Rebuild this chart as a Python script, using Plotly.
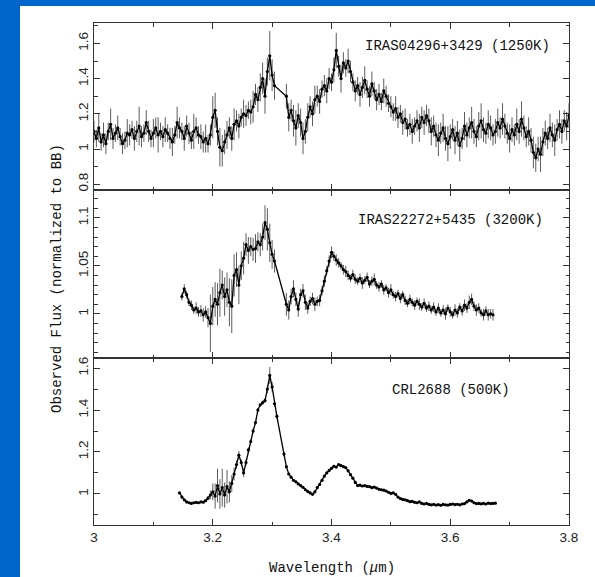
import numpy as np
import plotly.graph_objects as go
from plotly.subplots import make_subplots

# ---------------- data ----------------
# wavelength sampling of each spectrum (start, step in micron)
IRAS04296_START, IRAS04296_STEP = 3.000, 0.004
IRAS22272_START, IRAS22272_STEP = 3.148, 0.004
CRL2688_START, CRL2688_STEP = 3.144, 0.004

# IRAS04296+3429 (1250K): flux normalised to black body
iras04296_flux = [
    1.10, 1.06, 1.12, 1.04, 1.08, 1.03, 1.10, 1.14, 1.06, 1.09,
    1.12, 1.07, 1.03, 1.05, 1.09, 1.08, 1.11, 1.06, 1.10, 1.13,
    1.07, 1.09, 1.15, 1.10, 1.06, 1.09, 1.12, 1.08, 1.10, 1.07,
    1.11, 1.09, 1.06, 1.04, 1.08, 1.15, 1.12, 1.10, 1.06, 1.13,
    1.09, 1.05, 1.10, 1.12, 1.08, 1.07, 1.04, 1.06, 1.03, 1.08,
    1.18, 1.22, 1.10, 1.01, 0.99, 1.04, 1.08, 1.12, 1.06, 1.14,
    1.16, 1.13, 1.18, 1.20, 1.19, 1.22, 1.21, 1.24, 1.31, 1.28,
    1.35, 1.40, 1.30, 1.44, 1.53, 1.42, 1.36, None, None, None,
    None, 1.30, 1.18, 1.22, 1.16, 1.12, 1.19, 1.15, 1.06, 1.10,
    1.18, 1.24, 1.20, 1.28, 1.30, 1.27, 1.34, 1.36, 1.33, 1.40,
    1.38, 1.45, 1.56, 1.47, 1.40, 1.49, 1.46, 1.50, 1.44, 1.38,
    1.33, 1.36, 1.31, 1.35, 1.39, 1.34, 1.30, 1.37, 1.33, 1.28,
    1.31, 1.27, 1.33, 1.30, 1.26, 1.24, 1.21, 1.23, 1.18, 1.20,
    1.15, 1.17, 1.12, 1.14, 1.10, 1.13, 1.16, 1.12, 1.18, 1.15,
    1.19, 1.16, 1.10, 1.13, 1.08, 1.05, 1.09, 1.12, 1.06, 1.03,
    1.07, 1.11, 1.05, 1.09, 1.02, 1.06, 1.13, 1.08, 1.12, 1.15,
    1.10, 1.07, 1.13, 1.16, 1.11, 1.09, 1.14, 1.12, 1.08, 1.10,
    1.15, 1.12, 1.17, 1.13, 1.09, 1.06, 1.11, 1.08, 1.14, 1.10,
    1.17, 1.12, 1.07, 1.10, 1.05, 0.98, 0.95, 1.00, 0.97, 1.04,
    1.09, 1.06, 1.12, 1.08, 1.05, 1.11, 1.14, 1.10, 1.16, 1.13,
    1.19,
]
iras04296_err = [
    0.06, 0.05, 0.08, 0.05, 0.07, 0.06, 0.05, 0.09, 0.06, 0.05,
    0.07, 0.05, 0.06, 0.05, 0.08, 0.06, 0.05, 0.07, 0.06, 0.11,
    0.06, 0.05, 0.07, 0.06, 0.05, 0.08, 0.06, 0.10, 0.05, 0.06,
    0.07, 0.05, 0.06, 0.08, 0.05, 0.09, 0.06, 0.05, 0.07, 0.06,
    0.06, 0.05, 0.10, 0.06, 0.05, 0.07, 0.06, 0.08, 0.05, 0.06,
    0.12, 0.10, 0.08, 0.11, 0.09, 0.07, 0.08, 0.06, 0.07, 0.09,
    0.06, 0.07, 0.05, 0.08, 0.06, 0.05, 0.07, 0.09, 0.06, 0.07,
    0.08, 0.09, 0.10, 0.08, 0.14, 0.09, 0.08, 0.00, 0.00, 0.00,
    0.00, 0.07, 0.08, 0.06, 0.09, 0.10, 0.07, 0.08, 0.09, 0.07,
    0.08, 0.06, 0.07, 0.08, 0.06, 0.07, 0.05, 0.06, 0.07, 0.06,
    0.05, 0.07, 0.10, 0.06, 0.08, 0.06, 0.05, 0.07, 0.06, 0.05,
    0.06, 0.05, 0.07, 0.06, 0.08, 0.05, 0.06, 0.07, 0.05, 0.06,
    0.06, 0.05, 0.07, 0.06, 0.05, 0.06, 0.05, 0.07, 0.06, 0.05,
    0.07, 0.06, 0.05, 0.06, 0.07, 0.05, 0.06, 0.08, 0.06, 0.07,
    0.06, 0.07, 0.08, 0.06, 0.07, 0.09, 0.06, 0.08, 0.07, 0.10,
    0.07, 0.06, 0.08, 0.07, 0.09, 0.06, 0.08, 0.07, 0.06, 0.09,
    0.07, 0.06, 0.08, 0.10, 0.07, 0.06, 0.08, 0.07, 0.06, 0.07,
    0.08, 0.06, 0.09, 0.07, 0.06, 0.08, 0.07, 0.06, 0.09, 0.07,
    0.10, 0.07, 0.06, 0.08, 0.07, 0.09, 0.08, 0.07, 0.10, 0.08,
    0.07, 0.06, 0.08, 0.07, 0.09, 0.06, 0.08, 0.07, 0.06, 0.08,
    0.07,
]

# IRAS22272+5435 (3200K)
iras22272_flux = [
    1.018, 1.026, 1.020, 1.012, 1.009, 1.004, 1.006, 1.002, 1.003, 0.999,
    1.002, 0.996,
    0.990, 1.008, 1.015, 1.010, 1.022, 1.030, 1.018, 1.025, 1.012, 1.008,
    1.040,
    1.046, 1.030, 1.050, 1.058, 1.072, 1.066, 1.070, 1.067, 1.068, 1.075,
    1.072, 1.080, 1.095, 1.088, 1.074, 1.062, 1.055,
    None, None, None, None,
    1.010, 1.004, 1.018, 1.026, 1.015, 1.005, 1.020, 1.024, 1.012, 1.006,
    1.013, 1.016, 1.010, 1.013, 1.014, 1.024, 1.034, 1.045, 1.055,
    1.064, 1.060, 1.056, 1.053, 1.050, 1.046, 1.044, 1.040, 1.037, 1.041,
    1.036, 1.034, 1.037, 1.032, 1.035, 1.038, 1.031, 1.034, 1.036, 1.030,
    1.028, 1.031, 1.025, 1.027, 1.022, 1.025, 1.020, 1.018, 1.021, 1.016,
    1.020, 1.014, 1.011, 1.015, 1.012, 1.009, 1.013, 1.010, 1.007, 1.011,
    1.006, 1.008, 1.004, 1.007, 1.002, 1.006, 1.001, 1.004, 1.000, 1.006,
    1.002, 0.999, 1.004, 1.001, 1.007, 1.003, 1.009, 1.006, 1.012, 1.015,
    1.008, 1.004, 1.006, 1.001, 0.999, 1.003, 0.999, 1.000, 0.999,
]
iras22272_err = [
    0.004, 0.005, 0.004, 0.004, 0.005, 0.004, 0.006, 0.005, 0.006, 0.007,
    0.006, 0.010,
    0.030, 0.020, 0.018, 0.022, 0.025, 0.015, 0.020, 0.018, 0.025, 0.028,
    0.022,
    0.018, 0.020, 0.015, 0.017, 0.012, 0.014, 0.010, 0.012, 0.015, 0.010,
    0.012, 0.014, 0.018, 0.022, 0.020, 0.015, 0.012,
    0.0, 0.0, 0.0, 0.0,
    0.012, 0.010, 0.008, 0.009, 0.007, 0.008, 0.006, 0.007, 0.008, 0.006,
    0.005, 0.006, 0.007, 0.005, 0.006, 0.005, 0.006, 0.005, 0.006,
    0.006, 0.005, 0.006, 0.005, 0.004, 0.005, 0.006, 0.005, 0.004, 0.005,
    0.005, 0.004, 0.005, 0.006, 0.004, 0.005, 0.004, 0.005, 0.006, 0.004,
    0.005, 0.004, 0.005, 0.004, 0.005, 0.006, 0.004, 0.005, 0.004, 0.005,
    0.004, 0.005, 0.004, 0.005, 0.004, 0.005, 0.004, 0.006, 0.004, 0.005,
    0.004, 0.005, 0.004, 0.005, 0.004, 0.005, 0.004, 0.005, 0.006, 0.004,
    0.005, 0.004, 0.006, 0.005, 0.004, 0.005, 0.006, 0.005, 0.007, 0.006,
    0.005, 0.006, 0.005, 0.004, 0.006, 0.005, 0.006, 0.005, 0.006,
]

# CRL2688 (500K)
crl2688_flux = [
    1.005, 0.985, 0.972, 0.962, 0.958, 0.955, 0.958, 0.960, 0.958, 0.962,
    0.961, 0.968, 0.980,
    0.995, 1.010, 0.990, 1.040, 1.000, 1.030, 0.995, 1.035, 1.010, 1.050,
    1.095,
    1.140, 1.185, 1.150, 1.100, 1.150, 1.210, 1.250, 1.300, 1.340, 1.400,
    1.425, 1.435, 1.445,
    1.500, 1.565, 1.510, 1.430, 1.370,
    None, None,
    1.190, 1.130, 1.095, 1.080, 1.065, 1.058, 1.048, 1.040, 1.032, 1.020,
    1.012, 1.005, 0.998, 1.010, 1.030, 1.045, 1.065, 1.085, 1.100, 1.112,
    1.122, 1.132, 1.128, 1.140, 1.135, 1.130, 1.125, 1.110, 1.092, 1.075,
    1.055, 1.040, 1.042, 1.038, 1.040, 1.036, 1.035, 1.030, 1.033, 1.028,
    1.022, 1.020, 1.018, 1.014, 1.008, 1.003, 1.005, 0.998, 0.985, 0.978,
    0.974, 0.972, 0.968, 0.963, 0.965, 0.960, 0.958, 0.962, 0.955, 0.952,
    0.955, 0.950, 0.948, 0.950, 0.947, 0.949, 0.946, 0.950, 0.948, 0.947,
    0.950, 0.952, 0.949, 0.951, 0.948, 0.952, 0.954, 0.962, 0.970, 0.966,
    0.958, 0.954, 0.955, 0.953, 0.955, 0.952, 0.956, 0.954, 0.955, 0.956,
]
crl2688_err = [
    0.004, 0.004, 0.003, 0.004, 0.003, 0.004, 0.003, 0.004, 0.003, 0.004,
    0.004, 0.005, 0.010,
    0.020, 0.040, 0.060, 0.080, 0.070, 0.090, 0.060, 0.080, 0.050, 0.040,
    0.030,
    0.020, 0.020, 0.015, 0.020, 0.015, 0.012, 0.010, 0.012, 0.010, 0.010,
    0.008, 0.010, 0.012,
    0.020, 0.040, 0.025, 0.015, 0.010,
    0.0, 0.0,
    0.010, 0.008, 0.007, 0.006, 0.005, 0.006, 0.005, 0.006, 0.005, 0.006,
    0.005, 0.006, 0.005, 0.006, 0.005, 0.006, 0.005, 0.006, 0.005, 0.006,
    0.006, 0.007, 0.006, 0.007, 0.006, 0.006, 0.005, 0.006, 0.005, 0.006,
    0.005, 0.004, 0.005, 0.004, 0.005, 0.004, 0.005, 0.004, 0.005, 0.004,
    0.004, 0.005, 0.004, 0.005, 0.004, 0.005, 0.004, 0.005, 0.004, 0.005,
    0.005, 0.004, 0.005, 0.004, 0.005, 0.004, 0.005, 0.004, 0.005, 0.004,
    0.004, 0.005, 0.004, 0.005, 0.004, 0.005, 0.004, 0.005, 0.004, 0.005,
    0.005, 0.004, 0.005, 0.004, 0.005, 0.004, 0.005, 0.004, 0.005, 0.004,
    0.004, 0.005, 0.004, 0.005, 0.004, 0.005, 0.004, 0.005, 0.004, 0.005,
]

panel_labels = ["IRAS04296+3429 (1250K)", "IRAS22272+5435 (3200K)", "CRL2688 (500K)"]
label_pos = [(3.612, 1.586), (3.600, 1.098), (3.602, 1.495)]
y_ranges = [(0.767, 1.716), (0.954, 1.129), (0.852, 1.648)]
y_tickvals = [[0.8, 1.0, 1.2, 1.4, 1.6], [1.0, 1.05, 1.1], [1.0, 1.2, 1.4, 1.6]]
y_ticktext = [["0.8", "1", "1.2", "1.4", "1.6"], ["1", "1.05", "1.1"], ["1", "1.2", "1.4", "1.6"]]
y_minor = [0.1, 0.01, 0.1]
x_tickvals = [3.0, 3.2, 3.4, 3.6, 3.8]
x_ticktext = ["3", "3.2", "3.4", "3.6", "3.8"]


def wavelengths(start, step, n):
    return np.round(start + step * np.arange(n), 4)


spectra = [
    (wavelengths(IRAS04296_START, IRAS04296_STEP, len(iras04296_flux)), iras04296_flux, iras04296_err),
    (wavelengths(IRAS22272_START, IRAS22272_STEP, len(iras22272_flux)), iras22272_flux, iras22272_err),
    (wavelengths(CRL2688_START, CRL2688_STEP, len(crl2688_flux)), crl2688_flux, crl2688_err),
]

# ---------------- figure ----------------
W, H = 595, 577
ML, MR, MT, MB = 94, 26, 23, 52
PW, PH = W - ML - MR, H - MT - MB

fig = make_subplots(rows=3, cols=1, shared_xaxes=True, vertical_spacing=0)

for i, (wl, flux, err) in enumerate(spectra):
    fig.add_trace(
        go.Scatter(
            x=wl, y=flux, mode="lines+markers", connectgaps=True,
            line=dict(color="black", width=1.3),
            marker=dict(color="black", size=3.2),
            error_y=dict(type="data", array=err, visible=True,
                         color="#5c5c5c", thickness=1, width=0),
            showlegend=False, hoverinfo="skip",
        ),
        row=i + 1, col=1,
    )

AX_COLOR = "#333333"
TICK_FONT = dict(family="Liberation Sans, Arial, sans-serif", size=13.5, color="#222")
MONO = "Liberation Mono, Courier New, monospace"

# panel boundaries in pixels (top, bottom)
panel_px = [(23, 190), (190, 358), (358, 525)]

for i in range(3):
    top, bot = panel_px[i]
    dom = [(H - MB - bot) / PH, (H - MB - top) / PH]
    fig.update_yaxes(
        row=i + 1, col=1, domain=dom, range=list(y_ranges[i]),
        tickmode="array", tickvals=y_tickvals[i], ticktext=y_ticktext[i],
        tickangle=-90, tickfont=TICK_FONT,
        ticks="inside", ticklen=6, tickcolor=AX_COLOR, tickwidth=1,
        minor=dict(dtick=y_minor[i], tick0=0, ticks="inside", ticklen=3.5,
                   tickcolor=AX_COLOR, showgrid=False),
        showline=True, linecolor=AX_COLOR, linewidth=1, mirror="ticks",
        showgrid=False, zeroline=False,
    )
    fig.update_xaxes(
        row=i + 1, col=1, range=[3.0, 3.8],
        tickmode="array", tickvals=x_tickvals, ticktext=x_ticktext,
        tickfont=TICK_FONT, showticklabels=(i == 2),
        ticks="inside", ticklen=6, tickcolor=AX_COLOR, tickwidth=1,
        minor=dict(dtick=0.1, tick0=3.0, ticks="inside", ticklen=3.5,
                   tickcolor=AX_COLOR, showgrid=False),
        showline=True, linecolor=AX_COLOR, linewidth=1, mirror="ticks",
        showgrid=False, zeroline=False,
    )

# source labels inside each panel
for i in range(3):
    xs = "x" if i == 0 else f"x{i + 1}"
    ys = "y" if i == 0 else f"y{i + 1}"
    fig.add_annotation(
        x=label_pos[i][0], y=label_pos[i][1], xref=xs, yref=ys,
        text=panel_labels[i], showarrow=False, xanchor="center", yanchor="middle",
        font=dict(family=MONO, size=14, color="#111"),
    )

# axis titles
fig.add_annotation(
    x=(57 - ML) / PW, y=(H - MB - 279) / PH, xref="paper", yref="paper",
    text="Observed Flux (normalized to BB)", textangle=-90, showarrow=False,
    xanchor="center", yanchor="middle",
    font=dict(family=MONO, size=14, color="#111"),
)
fig.add_annotation(
    x=0.5, y=(H - MB - 568) / PH, xref="paper", yref="paper",
    text="Wavelength (<i>\u03bc</i>m)", showarrow=False,
    xanchor="center", yanchor="middle",
    font=dict(family=MONO, size=14, color="#111"),
)

# white page on a blue backdrop
fig.add_shape(
    type="rect", xref="paper", yref="paper", layer="below",
    x0=(20 - ML) / PW, x1=(W - ML) / PW + 0.01,
    y0=(H - MB - H) / PH - 0.01, y1=(H - MB - 6) / PH,
    fillcolor="white", line=dict(width=0),
)

fig.update_layout(
    width=W, height=H, autosize=False,
    margin=dict(l=ML, r=MR, t=MT, b=MB, pad=0),
    paper_bgcolor="#0066cc", plot_bgcolor="rgba(0,0,0,0)",
    showlegend=False,
)

fig.write_html("out.html", include_plotlyjs=True, config={"displayModeBar": False})
